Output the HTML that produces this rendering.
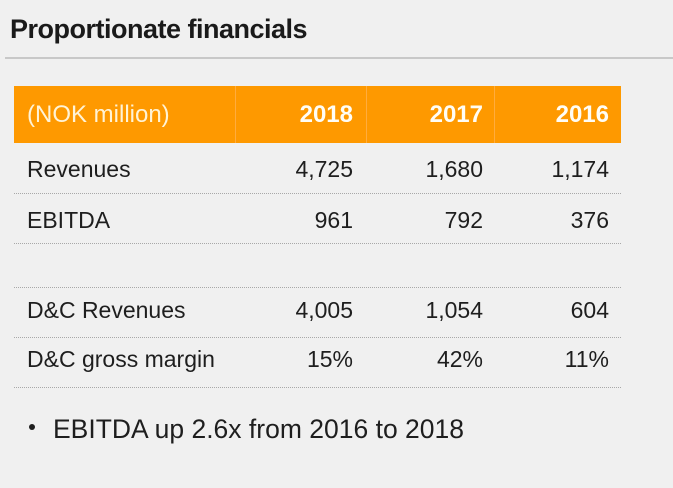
<!DOCTYPE html>
<html>
<head>
<meta charset="utf-8">
<style>
  html,body{margin:0;padding:0;}
  body{width:673px;height:488px;background:#f0f0f0;position:relative;overflow:hidden;font-family:"Liberation Sans",sans-serif;color:#1e1e1e;}
  .abs{position:absolute;white-space:nowrap;line-height:1;}
  .title{left:10px;top:16px;font-size:27px;font-weight:bold;letter-spacing:-0.5px;color:#1a1a1a;}
  .rule{position:absolute;left:5px;top:57px;width:668px;height:2px;background:#c8c8c8;}
  .hdr{position:absolute;left:14px;top:86px;width:607px;height:57px;background:#fe9900;}
  .div{position:absolute;top:86px;width:1px;height:57px;background:#ffac3d;}
  .htxt{font-size:24px;color:#fff3d6;}
  .hyr{font-size:24px;font-weight:bold;color:#fffdf5;text-align:right;}
  .row{font-size:23px;}
  .num{font-size:23px;text-align:right;}
  .dot{position:absolute;left:14px;width:607px;height:0;border-top:1px dotted #a8a8a8;}
  .bul{font-size:26.5px;left:53px;top:416px;}
  .bdot{position:absolute;left:29px;top:424px;width:6px;height:6px;border-radius:50%;background:#1e1e1e;}
</style>
</head>
<body>
  <div class="abs title">Proportionate financials</div>
  <div class="rule"></div>

  <div class="hdr"></div>
  <div class="div" style="left:235px"></div>
  <div class="div" style="left:366px"></div>
  <div class="div" style="left:494px"></div>
  <div class="abs htxt" style="left:27px;top:103px;">(NOK million)</div>
  <div class="abs hyr" style="left:253px;width:100px;top:103px;">2018</div>
  <div class="abs hyr" style="left:383px;width:100px;top:103px;">2017</div>
  <div class="abs hyr" style="left:509px;width:100px;top:103px;">2016</div>

  <div class="abs row" style="left:27px;top:158px;">Revenues</div>
  <div class="abs num" style="left:253px;width:100px;top:158px;">4,725</div>
  <div class="abs num" style="left:383px;width:100px;top:158px;">1,680</div>
  <div class="abs num" style="left:509px;width:100px;top:158px;">1,174</div>
  <div class="dot" style="top:193px"></div>

  <div class="abs row" style="left:27px;top:209px;">EBITDA</div>
  <div class="abs num" style="left:253px;width:100px;top:209px;">961</div>
  <div class="abs num" style="left:383px;width:100px;top:209px;">792</div>
  <div class="abs num" style="left:509px;width:100px;top:209px;">376</div>
  <div class="dot" style="top:243px"></div>

  <div class="dot" style="top:287px"></div>

  <div class="abs row" style="left:27px;top:299px;">D&amp;C Revenues</div>
  <div class="abs num" style="left:253px;width:100px;top:299px;">4,005</div>
  <div class="abs num" style="left:383px;width:100px;top:299px;">1,054</div>
  <div class="abs num" style="left:509px;width:100px;top:299px;">604</div>
  <div class="dot" style="top:337px"></div>

  <div class="abs row" style="left:27px;top:348px;">D&amp;C gross margin</div>
  <div class="abs num" style="left:253px;width:100px;top:348px;">15%</div>
  <div class="abs num" style="left:383px;width:100px;top:348px;">42%</div>
  <div class="abs num" style="left:509px;width:100px;top:348px;">11%</div>
  <div class="dot" style="top:387px"></div>

  <div class="bdot"></div>
  <div class="abs bul">EBITDA up 2.6x from 2016 to 2018</div>
</body>
</html>
